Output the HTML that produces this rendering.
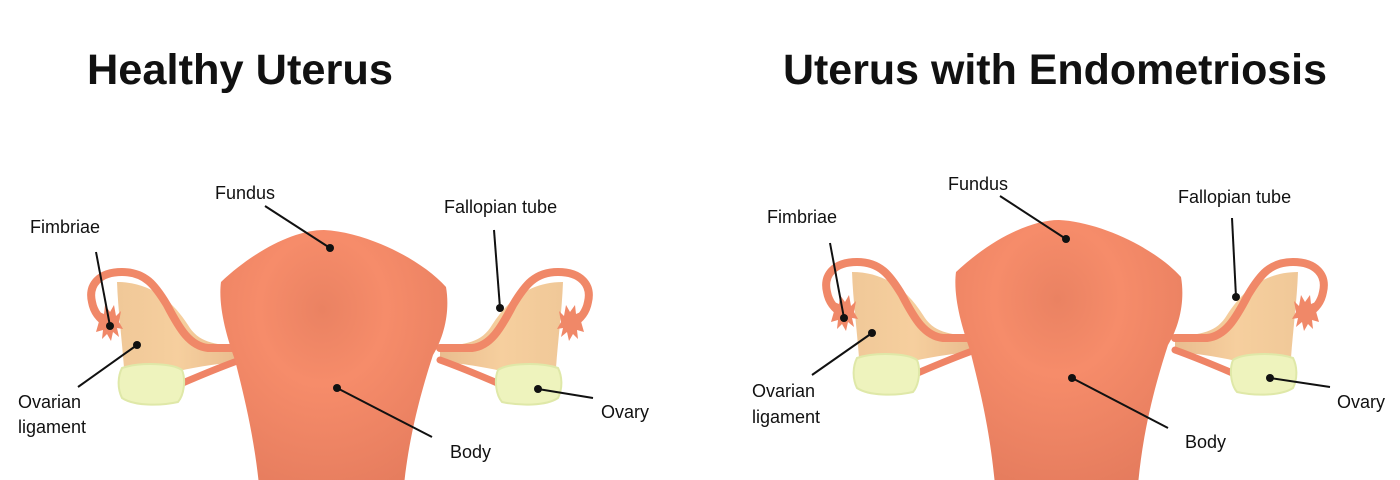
<!DOCTYPE html>
<html><head><meta charset="utf-8"><style>
html,body{margin:0;padding:0;background:#fff}
svg{display:block}
text{font-family:"Liberation Sans",sans-serif;fill:#111}
.t{font-weight:bold;font-size:43px}
.l{font-size:18px}
</style></head><body>
<svg width="1400" height="480" viewBox="0 0 1400 480" xmlns="http://www.w3.org/2000/svg">
<defs>
<radialGradient id="bg" cx="0.45" cy="0.3" r="0.8">
<stop offset="0" stop-color="#ea8262"/><stop offset="0.35" stop-color="#f68c6a"/><stop offset="1" stop-color="#e37a5c"/>
</radialGradient>
<linearGradient id="tan" x1="0" x2="1"><stop offset="0" stop-color="#f0c898"/><stop offset="0.5" stop-color="#f6cf9e"/><stop offset="1" stop-color="#e9bc8e"/></linearGradient>
<g id="side">
<path d="M117,282 C150,282 172,300 188,325 C198,342 214,345 240,346 L240,362 C205,364 175,372 155,376 L124,368 C122,340 118,310 117,282 Z" fill="url(#tan)"/>
<path d="M240,348 L208,348 C190,346 180,330 167,305 C155,285 145,272 122,272 C99,272 88,285 92,302 C94,313 101,320 108,324" fill="none" stroke="#f08868" stroke-width="8" stroke-linecap="round"/>
<path d="M100,318 l-3,-7 l7,3 l1,-9 l5,7 l4,-7 l2,11 l5,-5 l-2,11 l4,7 l-6,-1 l2,9 l-6,-5 l-2,9 l-4,-7 l-5,5 l1,-9 l-7,2 z" fill="#f08868"/>
<path d="M166,390 C190,380 212,370 240,360" fill="none" stroke="#ef8466" stroke-width="7" stroke-linecap="round"/>
<path d="M122,368 C140,362 172,363 182,370 C186,380 184,395 178,402 C160,406 134,406 122,398 C117,388 118,376 122,368 Z" fill="#eef3bd" stroke="#dfe8a8" stroke-width="2"/>
</g>
<g id="ut">
<use href="#side"/>
<use href="#side" transform="translate(680,0) scale(-1,1)"/>
<path d="M221,282 C255,250 295,230 324,230 C365,232 420,258 446,287 C450,310 445,335 433,355 C420,395 408,440 403,495 L260,495 C255,440 245,400 235,360 C226,335 218,305 221,282 Z" fill="url(#bg)"/>
</g>
</defs>

<text class="t" x="87" y="84" textLength="306" lengthAdjust="spacingAndGlyphs">Healthy Uterus</text>
<text class="t" x="783" y="84" textLength="544" lengthAdjust="spacingAndGlyphs">Uterus with Endometriosis</text>

<use href="#ut"/>
<use href="#ut" transform="translate(735,-10)"/>

<g stroke="#111" stroke-width="2" fill="none">
<line x1="96" y1="252" x2="110" y2="326"/>
<line x1="265" y1="206" x2="330" y2="248"/>
<line x1="494" y1="230" x2="500" y2="308"/>
<line x1="78" y1="387" x2="137" y2="345"/>
<line x1="538" y1="389" x2="593" y2="398"/>
<line x1="337" y1="388" x2="432" y2="437"/>
<line x1="830" y1="243" x2="844" y2="318"/>
<line x1="1000" y1="196" x2="1066" y2="239"/>
<line x1="1232" y1="218" x2="1236" y2="297"/>
<line x1="812" y1="375" x2="872" y2="333"/>
<line x1="1270" y1="378" x2="1330" y2="387"/>
<line x1="1072" y1="378" x2="1168" y2="428"/>
</g>
<g fill="#111">
<circle cx="110" cy="326" r="4"/><circle cx="330" cy="248" r="4"/><circle cx="500" cy="308" r="4"/>
<circle cx="137" cy="345" r="4"/><circle cx="538" cy="389" r="4"/><circle cx="337" cy="388" r="4"/>
<circle cx="844" cy="318" r="4"/><circle cx="1066" cy="239" r="4"/><circle cx="1236" cy="297" r="4"/>
<circle cx="872" cy="333" r="4"/><circle cx="1270" cy="378" r="4"/><circle cx="1072" cy="378" r="4"/>
</g>

<text class="l" x="30" y="233">Fimbriae</text>
<text class="l" x="215" y="199">Fundus</text>
<text class="l" x="444" y="213">Fallopian tube</text>
<text class="l" x="18" y="408">Ovarian</text>
<text class="l" x="18" y="433">ligament</text>
<text class="l" x="601" y="418">Ovary</text>
<text class="l" x="450" y="458">Body</text>

<text class="l" x="767" y="223">Fimbriae</text>
<text class="l" x="948" y="190">Fundus</text>
<text class="l" x="1178" y="203">Fallopian tube</text>
<text class="l" x="752" y="397">Ovarian</text>
<text class="l" x="752" y="423">ligament</text>
<text class="l" x="1337" y="408">Ovary</text>
<text class="l" x="1185" y="448">Body</text>
</svg>
</body></html>
